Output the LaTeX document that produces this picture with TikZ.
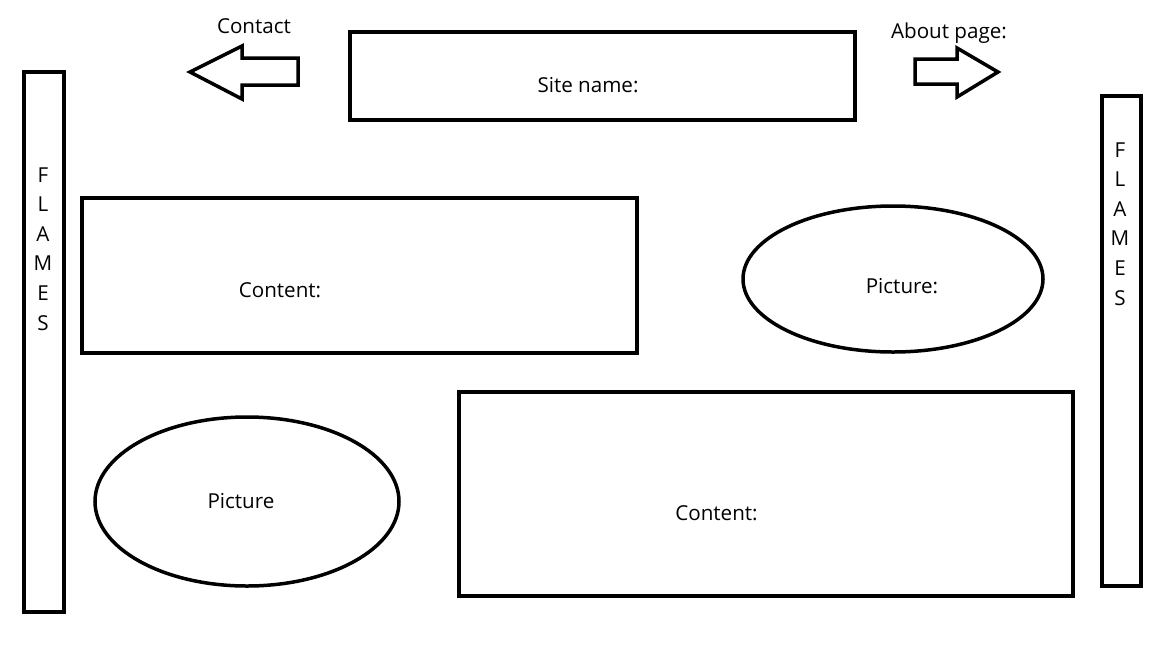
\documentclass[tikz,border=0pt]{standalone}
\usepackage{fontspec}
\setmainfont{Open Sans}
\usetikzlibrary{shapes.geometric}
\begin{document}
\begin{tikzpicture}[x=1pt,y=-1pt,
  outline/.style={draw,line width=3.5pt,line join=miter},
  box/.style={outline,rectangle,inner sep=0pt},
  oval/.style={outline,ellipse,inner sep=0pt},
  txt/.style={font=\fontsize{20.6}{24}\selectfont,inner sep=0pt,anchor=base},
]
\useasboundingbox (0,0) rectangle (1172,662);
% boxes
\node[box,minimum width=505pt,minimum height=88pt] (site) at (602.5,76) {};
\node[box,minimum width=555pt,minimum height=155pt] (content1) at (359.5,275.5) {};
\node[box,minimum width=614pt,minimum height=204pt] (content2) at (766,494) {};
\node[oval,minimum width=300pt,minimum height=146pt] (pic1) at (893,279) {};
\node[oval,minimum width=304pt,minimum height=169pt] (pic2) at (247,501.5) {};
\node[box,minimum width=40pt,minimum height=540pt] (leftbar) at (44,342) {};
\node[box,minimum width=39pt,minimum height=490pt] (rightbar) at (1121.5,341) {};
% arrows
\draw[outline] (190,72) -- (242,46) -- (242,58) -- (298,58) -- (298,85) -- (242,85) -- (242,99) -- cycle;
\draw[outline] (915,59) -- (957,59) -- (957,48) -- (998,72) -- (957,97) -- (957,84) -- (915,84) -- cycle;
% texts
\node[txt] (tsite) at (588,92) {Site name:};
\node[txt] (tcontact) at (254,33) {Contact};
\node[txt] (tabout) at (949,38) {About page:};
\node[txt] (tcontent1) at (280,297.5) {Content:};
\node[txt] (tcontent2) at (716.5,520) {Content:};
\node[txt] (tpic1) at (902,293.5) {Picture:};
\node[txt] (tpic2) at (241,508) {Picture};
\foreach \l [count=\i from 0] in {F,L,A,M,E,S} {
  \node[txt] (lf\i) at (43,182+29.6*\i) {\l};
  \node[txt] (rf\i) at (1120,157+29.6*\i) {\l};
}
\end{tikzpicture}
\end{document}
